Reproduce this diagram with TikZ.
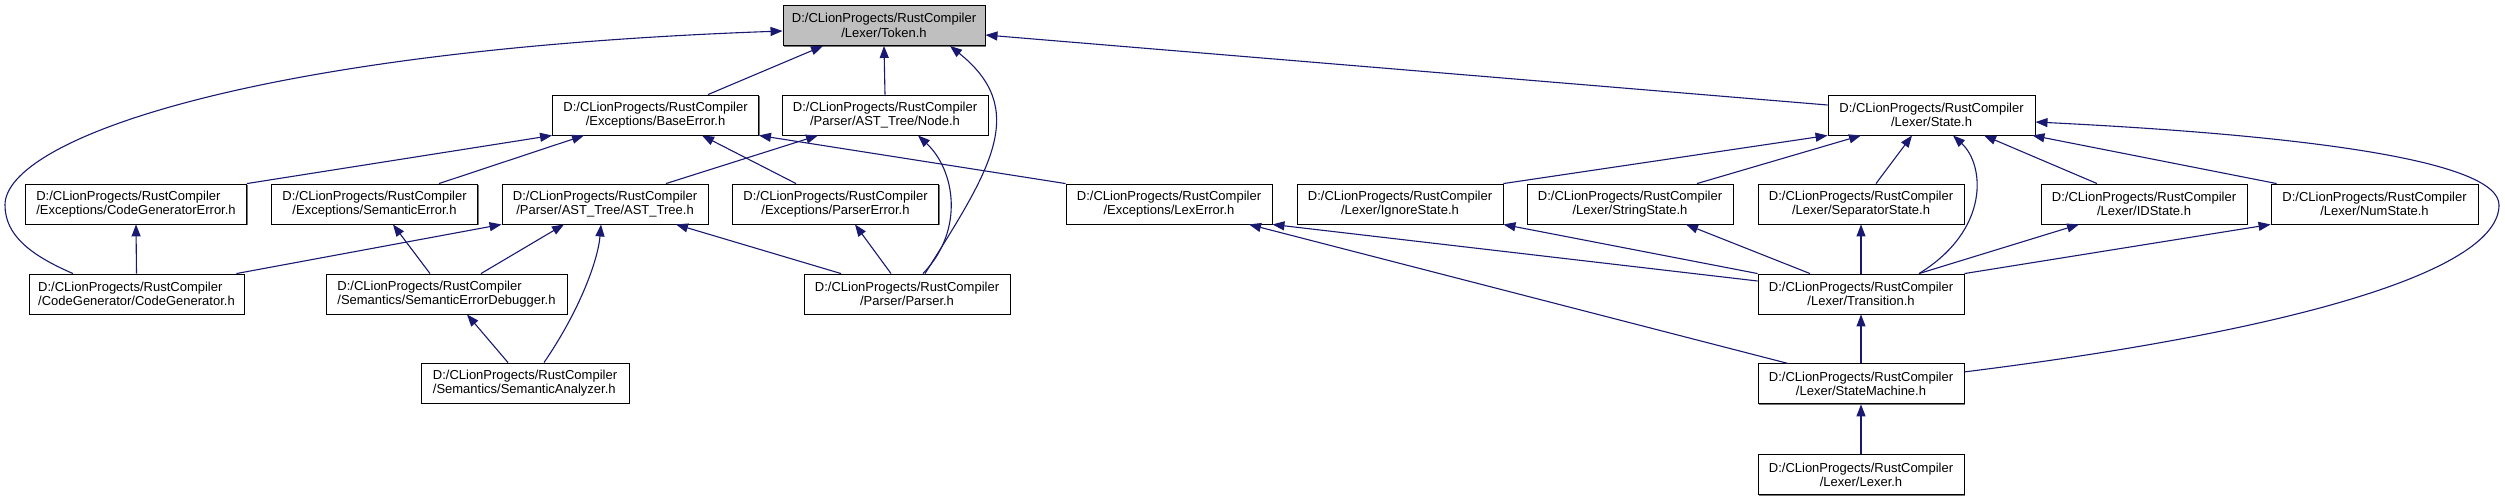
\documentclass[tikz,border=0pt]{standalone}
\usepackage{fontspec}
\setmainfont{Liberation Sans}
\usetikzlibrary{arrows.meta, positioning, shadows}
\definecolor{includeedge}{HTML}{191970}
\definecolor{rootfill}{HTML}{BFBFBF}

\begin{document}
\begin{tikzpicture}[
    x=1pt, y=-1pt,
    filebox/.style={
        draw,
        fill=white,
        minimum width=206pt,
        minimum height=40pt,
        inner sep=2pt,
        align=center,
        line width=0.9pt,
        font=\fontsize{13}{14.5}\selectfont,
        drop shadow={shadow xshift=1.3pt, shadow yshift=-1.3pt, fill=black!55, opacity=1}
    },
    leftbox/.style={
        filebox,
        align=left
    },
    rootbox/.style={
        filebox,
        fill=rootfill
    },
    includelink/.style={
        -{Triangle[length=12pt, width=9pt]},
        line width=1.1pt,
        includeedge
    }
]
    \useasboundingbox (0,0) rectangle (2505,499);

    % left half
    \node[rootbox, minimum width=202pt] (token) at (884,25.5) {D:/CLionProgects/RustCompiler\\/Lexer/Token.h};
    \node[filebox] (baseError) at (655.5,115) {D:/CLionProgects/RustCompiler\\/Exceptions/BaseError.h};
    \node[filebox] (astNode) at (885,115) {D:/CLionProgects/RustCompiler\\/Parser/AST\_Tree/Node.h};
    \node[leftbox, minimum width=221pt] (codeGenError) at (136,204) {D:/CLionProgects/RustCompiler\\/Exceptions/CodeGeneratorError.h};
    \node[filebox] (semanticError) at (374.5,204) {D:/CLionProgects/RustCompiler\\/Exceptions/SemanticError.h};
    \node[filebox] (astTree) at (605,204) {D:/CLionProgects/RustCompiler\\/Parser/AST\_Tree/AST\_Tree.h};
    \node[filebox] (parserError) at (835.5,204) {D:/CLionProgects/RustCompiler\\/Exceptions/ParserError.h};
    \node[leftbox, minimum width=215pt] (codeGenerator) at (136.5,294) {D:/CLionProgects/RustCompiler\\/CodeGenerator/CodeGenerator.h};
    \node[leftbox, minimum width=241pt] (semErrorDebugger) at (446.5,294) {D:/CLionProgects/RustCompiler\\/Semantics/SemanticErrorDebugger.h};
    \node[filebox] (parser) at (907,294) {D:/CLionProgects/RustCompiler\\/Parser/Parser.h};
    \node[leftbox, minimum width=208pt] (semAnalyzer) at (525,383) {D:/CLionProgects/RustCompiler\\/Semantics/SemanticAnalyzer.h};
    \coordinate (codeGenTurn) at (5,205);

    % right half
    \node[filebox, minimum width=207pt] (state) at (1931.5,115) {D:/CLionProgects/RustCompiler\\/Lexer/State.h};
    \node[filebox] (lexError) at (1169,204) {D:/CLionProgects/RustCompiler\\/Exceptions/LexError.h};
    \node[filebox] (ignoreState) at (1400,204) {D:/CLionProgects/RustCompiler\\/Lexer/IgnoreState.h};
    \node[filebox] (stringState) at (1630,204) {D:/CLionProgects/RustCompiler\\/Lexer/StringState.h};
    \node[filebox] (separatorState) at (1861,204) {D:/CLionProgects/RustCompiler\\/Lexer/SeparatorState.h};
    \node[filebox] (idState) at (2144,204) {D:/CLionProgects/RustCompiler\\/Lexer/IDState.h};
    \node[filebox, minimum width=207pt] (numState) at (2374.5,204) {D:/CLionProgects/RustCompiler\\/Lexer/NumState.h};
    \node[filebox] (transition) at (1861,294) {D:/CLionProgects/RustCompiler\\/Lexer/Transition.h};
    \node[filebox, below=49pt of transition] (stateMachine) {D:/CLionProgects/RustCompiler\\/Lexer/StateMachine.h};
    \node[filebox, below=50pt of stateMachine] (lexer) {D:/CLionProgects/RustCompiler\\/Lexer/Lexer.h};
    \coordinate (loopTurn) at (2499,205);

    % includes of Token.h
    \draw[includelink] ([xshift=52.5pt]baseError.north) -- ([xshift=-61pt]token.south);
    \draw[includelink] (astNode.north) -- (token.south);
    \draw[includelink] ([xshift=18pt]parser.north) .. controls (990,170) and (1030,110) .. ([xshift=66pt]token.south);
    \draw[includelink] ([xshift=-63.5pt]codeGenerator.north) .. controls (30,255) and (5,235) .. (codeGenTurn)
        .. controls (5,140) and (250,50) .. ([yshift=-5.5pt]token.west);
    \draw[includelink] ([yshift=10pt]state.west) -- ([yshift=-9.5pt]token.east);

    % includes of BaseError.h
    \draw[includelink] (codeGenError.north east) -- (baseError.south west);
    \draw[includelink] ([xshift=64.5pt]semanticError.north) -- ([xshift=-71.5pt]baseError.south);
    \draw[includelink] ([xshift=-39.5pt]parserError.north) -- ([xshift=46.5pt]baseError.south);
    \draw[includelink] (lexError.north west) -- (baseError.south east);

    % includes of Node.h and AST_Tree.h
    \draw[includelink] ([xshift=61pt]astTree.north) -- ([xshift=-67pt]astNode.south);
    \draw[includelink] ([xshift=16pt]parser.north) .. controls (965,230) and (955,170) .. ([xshift=33pt]astNode.south);
    \draw[includelink] ([xshift=-8pt]codeGenerator.north east) -- (astTree.south west);
    \draw[includelink] ([xshift=34.5pt]semErrorDebugger.north) -- ([xshift=-41pt]astTree.south);
    \draw[includelink] ([xshift=19pt]semAnalyzer.north) .. controls (580,310) and (598,260) .. ([xshift=-4pt]astTree.south);
    \draw[includelink] ([xshift=-66pt]parser.north) -- ([xshift=71pt]astTree.south);

    % other error headers
    \draw[includelink] (codeGenerator.north) -- (codeGenError.south);
    \draw[includelink] ([xshift=-16.5pt]semErrorDebugger.north) -- ([xshift=18.5pt]semanticError.south);
    \draw[includelink] ([xshift=-16pt]parser.north) -- ([xshift=19.5pt]parserError.south);
    \draw[includelink] ([xshift=-17pt]semAnalyzer.north) -- ([xshift=20.5pt]semErrorDebugger.south);

    % includes of State.h
    \draw[includelink] (ignoreState.north east) -- (state.south west);
    \draw[includelink] ([xshift=67pt]stringState.north) -- ([xshift=-70.5pt]state.south);
    \draw[includelink] ([xshift=15pt]separatorState.north) -- ([xshift=-19.5pt]state.south);
    \draw[includelink] ([xshift=58pt]transition.north) .. controls (1990,230) and (1985,165) .. ([xshift=21.5pt]state.south);
    \draw[includelink] ([xshift=-47pt]idState.north) -- ([xshift=52.5pt]state.south);
    \draw[includelink] ([xshift=6pt]numState.north west) -- ([xshift=-3pt]state.south east);
    \draw[includelink] ([yshift=12pt]stateMachine.east) .. controls (2300,330) and (2499,270) .. (loopTurn)
        .. controls (2499,160) and (2300,135) .. ([yshift=-7pt]state.east);

    % Transition.h and the state machine
    \draw[includelink] ([yshift=13pt]transition.west) -- (lexError.south east);
    \draw[includelink] (transition.north west) -- (ignoreState.south east);
    \draw[includelink] ([xshift=-51pt]transition.north) -- ([xshift=56pt]stringState.south);
    \draw[includelink] (transition.north) -- (separatorState.south);
    \draw[includelink] ([xshift=58pt]transition.north) -- ([xshift=-65pt]idState.south);
    \draw[includelink] (transition.north east) -- (numState.south west);
    \draw[includelink] ([xshift=-73pt]stateMachine.north) -- ([xshift=80pt]lexError.south);
    \draw[includelink] (stateMachine) -- (transition);
    \draw[includelink] (lexer) -- (stateMachine);
\end{tikzpicture}
\end{document}
